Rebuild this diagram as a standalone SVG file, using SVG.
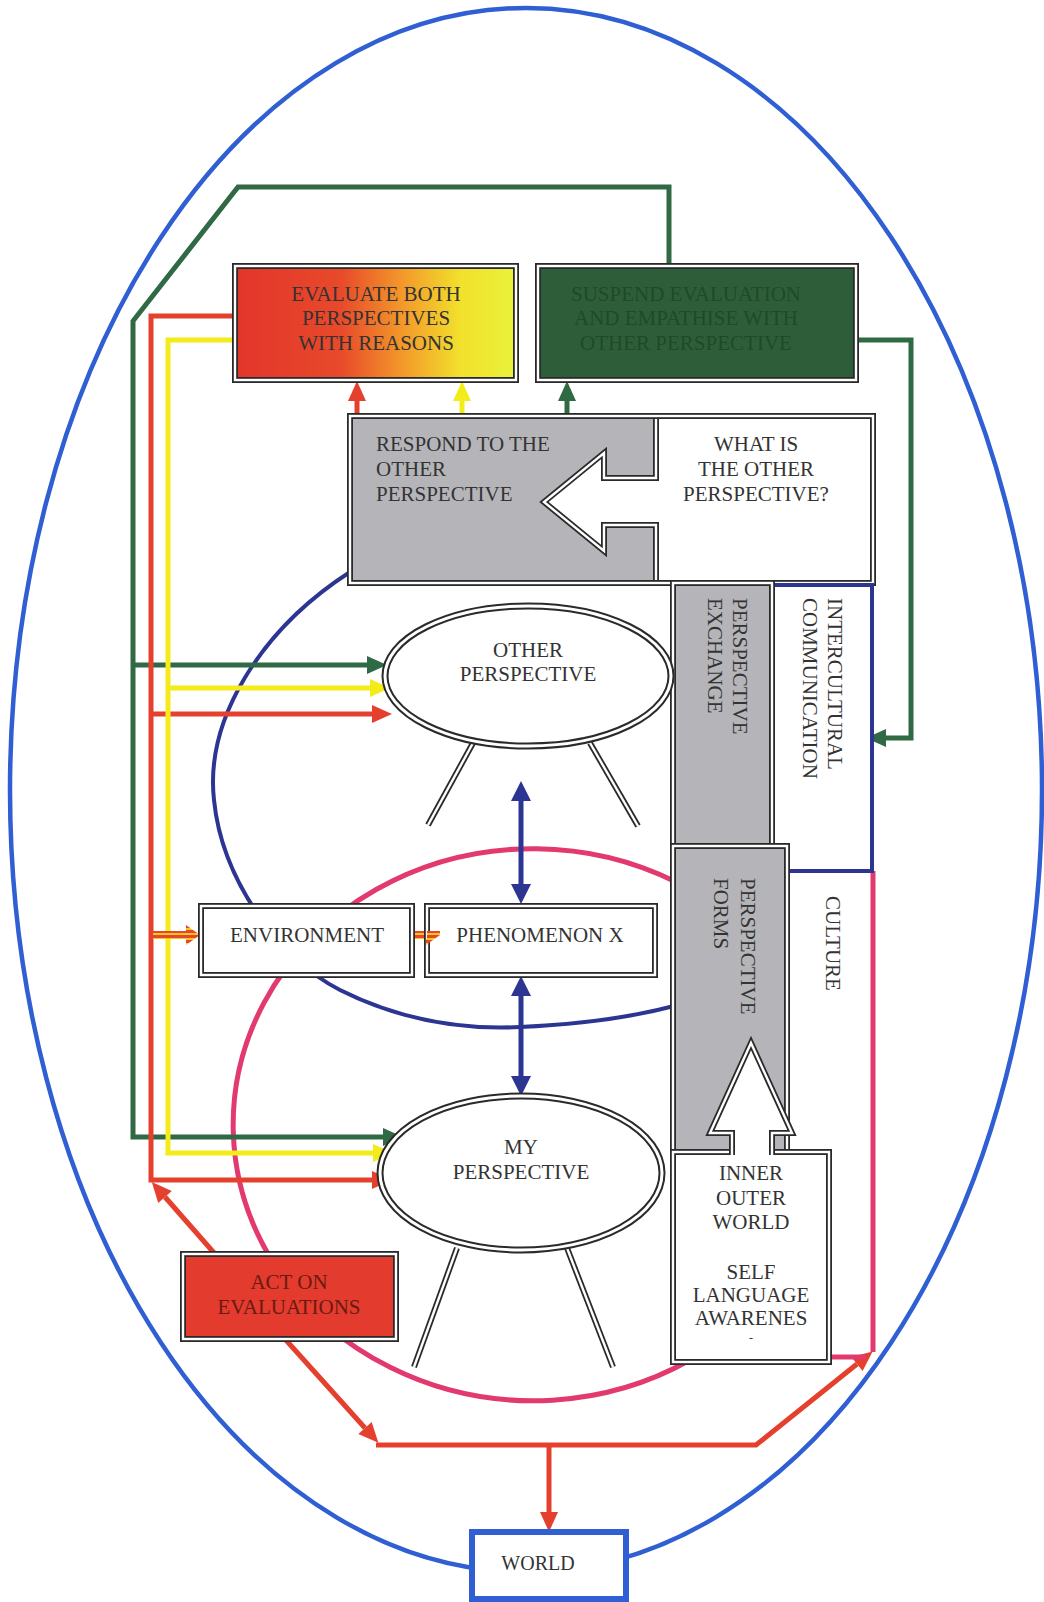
<svg xmlns="http://www.w3.org/2000/svg" width="1044" height="1602" viewBox="0 0 1044 1602">
<style>
.t{font-family:"Liberation Serif","Times New Roman",serif;font-size:21px;fill:#333}
.c{text-anchor:middle}
.b1{fill:none;stroke:#2a2a2a;stroke-width:6}
.b2{fill:none;stroke:#fff;stroke-width:2.4}
.e1{fill:#fff;stroke:#2a2a2a;stroke-width:7}
.e2{fill:none;stroke:#fff;stroke-width:3}
.l1{fill:none;stroke:#2a2a2a;stroke-width:6}
.l2{fill:none;stroke:#fff;stroke-width:2.4}
.g{fill:none;stroke:#2f6a45;stroke-width:5;stroke-linejoin:miter}
.r{fill:none;stroke:#e5402d;stroke-width:5}
.y{fill:none;stroke:#f3ec1a;stroke-width:5}
.n{fill:none;stroke:#2c3592;stroke-width:5}
.p{fill:none;stroke:#e23a6e;stroke-width:5}
.gray{fill:#b5b5b9}
</style>
<defs>
<linearGradient id="evalGrad" x1="0" y1="0" x2="1" y2="0">
<stop offset="0" stop-color="#e2352c"/>
<stop offset="0.38" stop-color="#e84a2a"/>
<stop offset="0.6" stop-color="#f39a2a"/>
<stop offset="0.8" stop-color="#f2e02c"/>
<stop offset="1" stop-color="#e9f23a"/>
</linearGradient>
<linearGradient id="stripe" gradientUnits="userSpaceOnUse" x1="0" y1="928" x2="0" y2="933" spreadMethod="repeat">
<stop offset="0" stop-color="#f6c825"/>
<stop offset="0.5" stop-color="#f6c825"/>
<stop offset="0.5" stop-color="#e8452a"/>
<stop offset="1" stop-color="#e8452a"/>
</linearGradient>
<marker id="mg" markerUnits="userSpaceOnUse" markerWidth="20" markerHeight="18" refX="0" refY="9" orient="auto" overflow="visible"><path d="M0,0 L20,9 L0,18 Z" fill="#2f6a45"/></marker>
<marker id="mr" markerUnits="userSpaceOnUse" markerWidth="20" markerHeight="18" refX="0" refY="9" orient="auto" overflow="visible"><path d="M0,0 L20,9 L0,18 Z" fill="#e5402d"/></marker>
<marker id="my" markerUnits="userSpaceOnUse" markerWidth="20" markerHeight="18" refX="0" refY="9" orient="auto" overflow="visible"><path d="M0,0 L20,9 L0,18 Z" fill="#f3ec1a"/></marker>
<marker id="mn" markerUnits="userSpaceOnUse" markerWidth="20" markerHeight="20" refX="0" refY="10" orient="auto-start-reverse" overflow="visible"><path d="M0,0 L20,10 L0,20 Z" fill="#2c3592"/></marker>
</defs>
<rect width="1044" height="1602" fill="#fff"/>

<g id="spheres">
<ellipse cx="526" cy="790" rx="516" ry="782" fill="none" stroke="#2f5fd3" stroke-width="4.5"/>
<path d="M350,572 C260,630 205,720 214,800 C222,880 280,960 340,990 C400,1020 460,1030 520,1027 C590,1024 640,1015 674,1006" fill="none" stroke="#2c3592" stroke-width="4"/>
<path d="M676,882 A300,276 0 1 0 690,1360 L710,1362" fill="none" stroke="#e23a6e" stroke-width="5"/>
</g>

<g id="connectors">
<path class="g" d="M669,266 V187 H238 L133,321 V1137 H383" marker-end="url(#mg)"/>
<path class="g" d="M133,665 H367" marker-end="url(#mg)"/>
<path class="g" d="M856,340 H911 V738 H886" marker-end="url(#mg)"/>
<path class="g" d="M567,416 V401" marker-end="url(#mg)"/>
<path class="r" d="M235,316 H151 V1180 H372" marker-end="url(#mr)"/>
<path class="r" d="M151,714 H372" marker-end="url(#mr)"/>
<path class="r" d="M357,416 V401" marker-end="url(#mr)"/>
<path class="y" d="M235,340 H168 V1153 H373" marker-end="url(#my)"/>
<path class="y" d="M168,688 H370" marker-end="url(#my)"/>
<path class="y" d="M462,416 V401" marker-end="url(#my)"/>
<path class="r" d="M215,1254 L165,1197" marker-end="url(#mr)"/>
<path class="r" d="M285,1339 L365,1428" marker-end="url(#mr)"/>
<path class="r" d="M376,1445 H756 L857,1364" marker-end="url(#mr)"/>
<path class="r" d="M549,1445 V1512" marker-end="url(#mr)"/>
<path class="n" d="M521,801 V884" marker-start="url(#mn)" marker-end="url(#mn)"/>
<path class="n" d="M521,996 V1076" marker-start="url(#mn)" marker-end="url(#mn)"/>
<path class="p" d="M873,871 V1352 M829,1357 H866"/>
<path d="M153,931 H186 V925 L200,935 L186,945 V939 H153 Z" fill="url(#stripe)"/>
<path d="M412,931 H426 V925 L440,935 L426,945 V939 H412 Z" fill="url(#stripe)"/>
</g>

<g id="evaluate">
<rect x="235" y="266" width="281" height="114" fill="url(#evalGrad)"/>
<rect x="235" y="266" width="281" height="114" class="b1"/>
<rect x="235" y="266" width="281" height="114" class="b2"/>
<text class="t c" x="376" y="301">EVALUATE BOTH<tspan x="376" y="325">PERSPECTIVES</tspan><tspan x="376" y="350">WITH REASONS</tspan></text>
</g>

<g id="suspend">
<rect x="538" y="266" width="318" height="114" fill="#2d5e39"/>
<rect x="538" y="266" width="318" height="114" class="b1"/>
<rect x="538" y="266" width="318" height="114" class="b2"/>
<text class="t c" x="686" y="301" style="fill:#1f4a2a">SUSPEND EVALUATION<tspan x="686" y="325">AND EMPATHISE WITH</tspan><tspan x="686" y="350">OTHER PERSPECTIVE</tspan></text>
</g>

<g id="respond">
<rect x="350" y="416" width="306" height="167" class="gray"/>
<rect x="656" y="416" width="217" height="167" fill="#fff"/>
<rect x="350" y="416" width="523" height="167" class="b1"/>
<rect x="350" y="416" width="523" height="167" class="b2"/>
<text class="t" x="376" y="451">RESPOND TO THE<tspan x="376" y="476">OTHER</tspan><tspan x="376" y="501">PERSPECTIVE</tspan></text>
</g>

<g id="what-is">
<path d="M656,478 H604 V453 L544,502 L604,551 V525 H656 Z" fill="#fff"/>
<path d="M656,419 V478 H604 V453 L544,502 L604,551 V525 H656 V580" class="l1"/>
<path d="M656,419 V478 H604 V453 L544,502 L604,551 V525 H656 V580" class="l2"/>
<text class="t c" x="756" y="451">WHAT IS<tspan x="756" y="476">THE OTHER</tspan><tspan x="756" y="501">PERSPECTIVE?</tspan></text>
</g>

<g id="intercultural">
<rect x="773" y="585" width="99" height="286" fill="#fff" stroke="#2c3592" stroke-width="4"/>
<text class="t" transform="translate(828,598) rotate(90)">INTERCULTURAL<tspan x="0" y="25">COMMUNICATION</tspan></text>
</g>

<g id="exchange">
<rect x="673" y="583" width="99" height="263" class="gray"/>
<rect x="673" y="583" width="99" height="263" class="b1"/>
<rect x="673" y="583" width="99" height="263" class="b2"/>
<text class="t" transform="translate(733,598) rotate(90)">PERSPECTIVE<tspan x="0" y="25">EXCHANGE</tspan></text>
</g>

<g id="forms">
<rect x="673" y="846" width="114" height="306" class="gray"/>
<rect x="673" y="846" width="114" height="306" class="b1"/>
<rect x="673" y="846" width="114" height="306" class="b2"/>
<text class="t" transform="translate(741,878) rotate(90)">PERSPECTIVE<tspan x="0" y="27">FORMS</tspan></text>
</g>

<g id="culture">
<text class="t" transform="translate(826,896) rotate(90)">CULTURE</text>
</g>

<g id="inner">
<rect x="673" y="1152" width="156" height="210" fill="#fff"/>
<rect x="673" y="1152" width="156" height="210" class="b1"/>
<rect x="673" y="1152" width="156" height="210" class="b2"/>
<path d="M732,1156 V1133 H710 L751,1043 L792,1133 H772 V1156 Z" fill="#fff"/>
<path d="M732,1155 V1133 H710 L751,1043 L792,1133 H772 V1155" class="l1"/>
<path d="M732,1155 V1133 H710 L751,1043 L792,1133 H772 V1155" class="l2"/>
<text class="t c" x="751" y="1180">INNER<tspan x="751" y="1205">OUTER</tspan><tspan x="751" y="1229">WORLD</tspan><tspan x="751" y="1279">SELF</tspan><tspan x="751" y="1302">LANGUAGE</tspan><tspan x="751" y="1325">AWARENES</tspan><tspan x="751" y="1342" style="font-size:12px">-</tspan></text>
</g>

<g id="other-perspective">
<line x1="473" y1="743" x2="428" y2="825" class="l1"/>
<line x1="473" y1="743" x2="428" y2="825" class="l2"/>
<line x1="590" y1="743" x2="638" y2="826" class="l1"/>
<line x1="590" y1="743" x2="638" y2="826" class="l2"/>
<ellipse cx="528" cy="676" rx="143" ry="70" class="e1"/>
<ellipse cx="528" cy="676" rx="143" ry="70" class="e2"/>
<text class="t c" x="528" y="657">OTHER<tspan x="528" y="681">PERSPECTIVE</tspan></text>
</g>

<g id="my-perspective">
<line x1="457" y1="1248" x2="414" y2="1367" class="l1"/>
<line x1="457" y1="1248" x2="414" y2="1367" class="l2"/>
<line x1="567" y1="1248" x2="613" y2="1367" class="l1"/>
<line x1="567" y1="1248" x2="613" y2="1367" class="l2"/>
<ellipse cx="521" cy="1173" rx="141" ry="77" class="e1"/>
<ellipse cx="521" cy="1173" rx="141" ry="77" class="e2"/>
<text class="t c" x="521" y="1154">MY<tspan x="521" y="1179">PERSPECTIVE</tspan></text>
</g>

<g id="environment">
<rect x="201" y="906" width="211" height="69" fill="#fff"/>
<rect x="201" y="906" width="211" height="69" class="b1"/>
<rect x="201" y="906" width="211" height="69" class="b2"/>
<text class="t c" x="307" y="942">ENVIRONMENT</text>
</g>

<g id="phenomenon">
<rect x="427" y="906" width="228" height="69" fill="#fff"/>
<rect x="427" y="906" width="228" height="69" class="b1"/>
<rect x="427" y="906" width="228" height="69" class="b2"/>
<text class="t c" x="540" y="942">PHENOMENON X</text>
<path d="M427,931 H440 L440,935 L426,945 V939 H427 Z" fill="url(#stripe)"/>
</g>

<g id="act">
<rect x="183" y="1254" width="213" height="85" fill="#e33b2d"/>
<rect x="183" y="1254" width="213" height="85" class="b1"/>
<rect x="183" y="1254" width="213" height="85" class="b2"/>
<text class="t c" x="289" y="1289" style="fill:#6b1a12">ACT ON<tspan x="289" y="1314">EVALUATIONS</tspan></text>
</g>

<g id="world">
<rect x="472" y="1532" width="154" height="67" fill="#fff" stroke="#2f5fd3" stroke-width="6"/>
<text class="t c" x="538" y="1570" style="font-size:20px">WORLD</text>
</g>
</svg>
